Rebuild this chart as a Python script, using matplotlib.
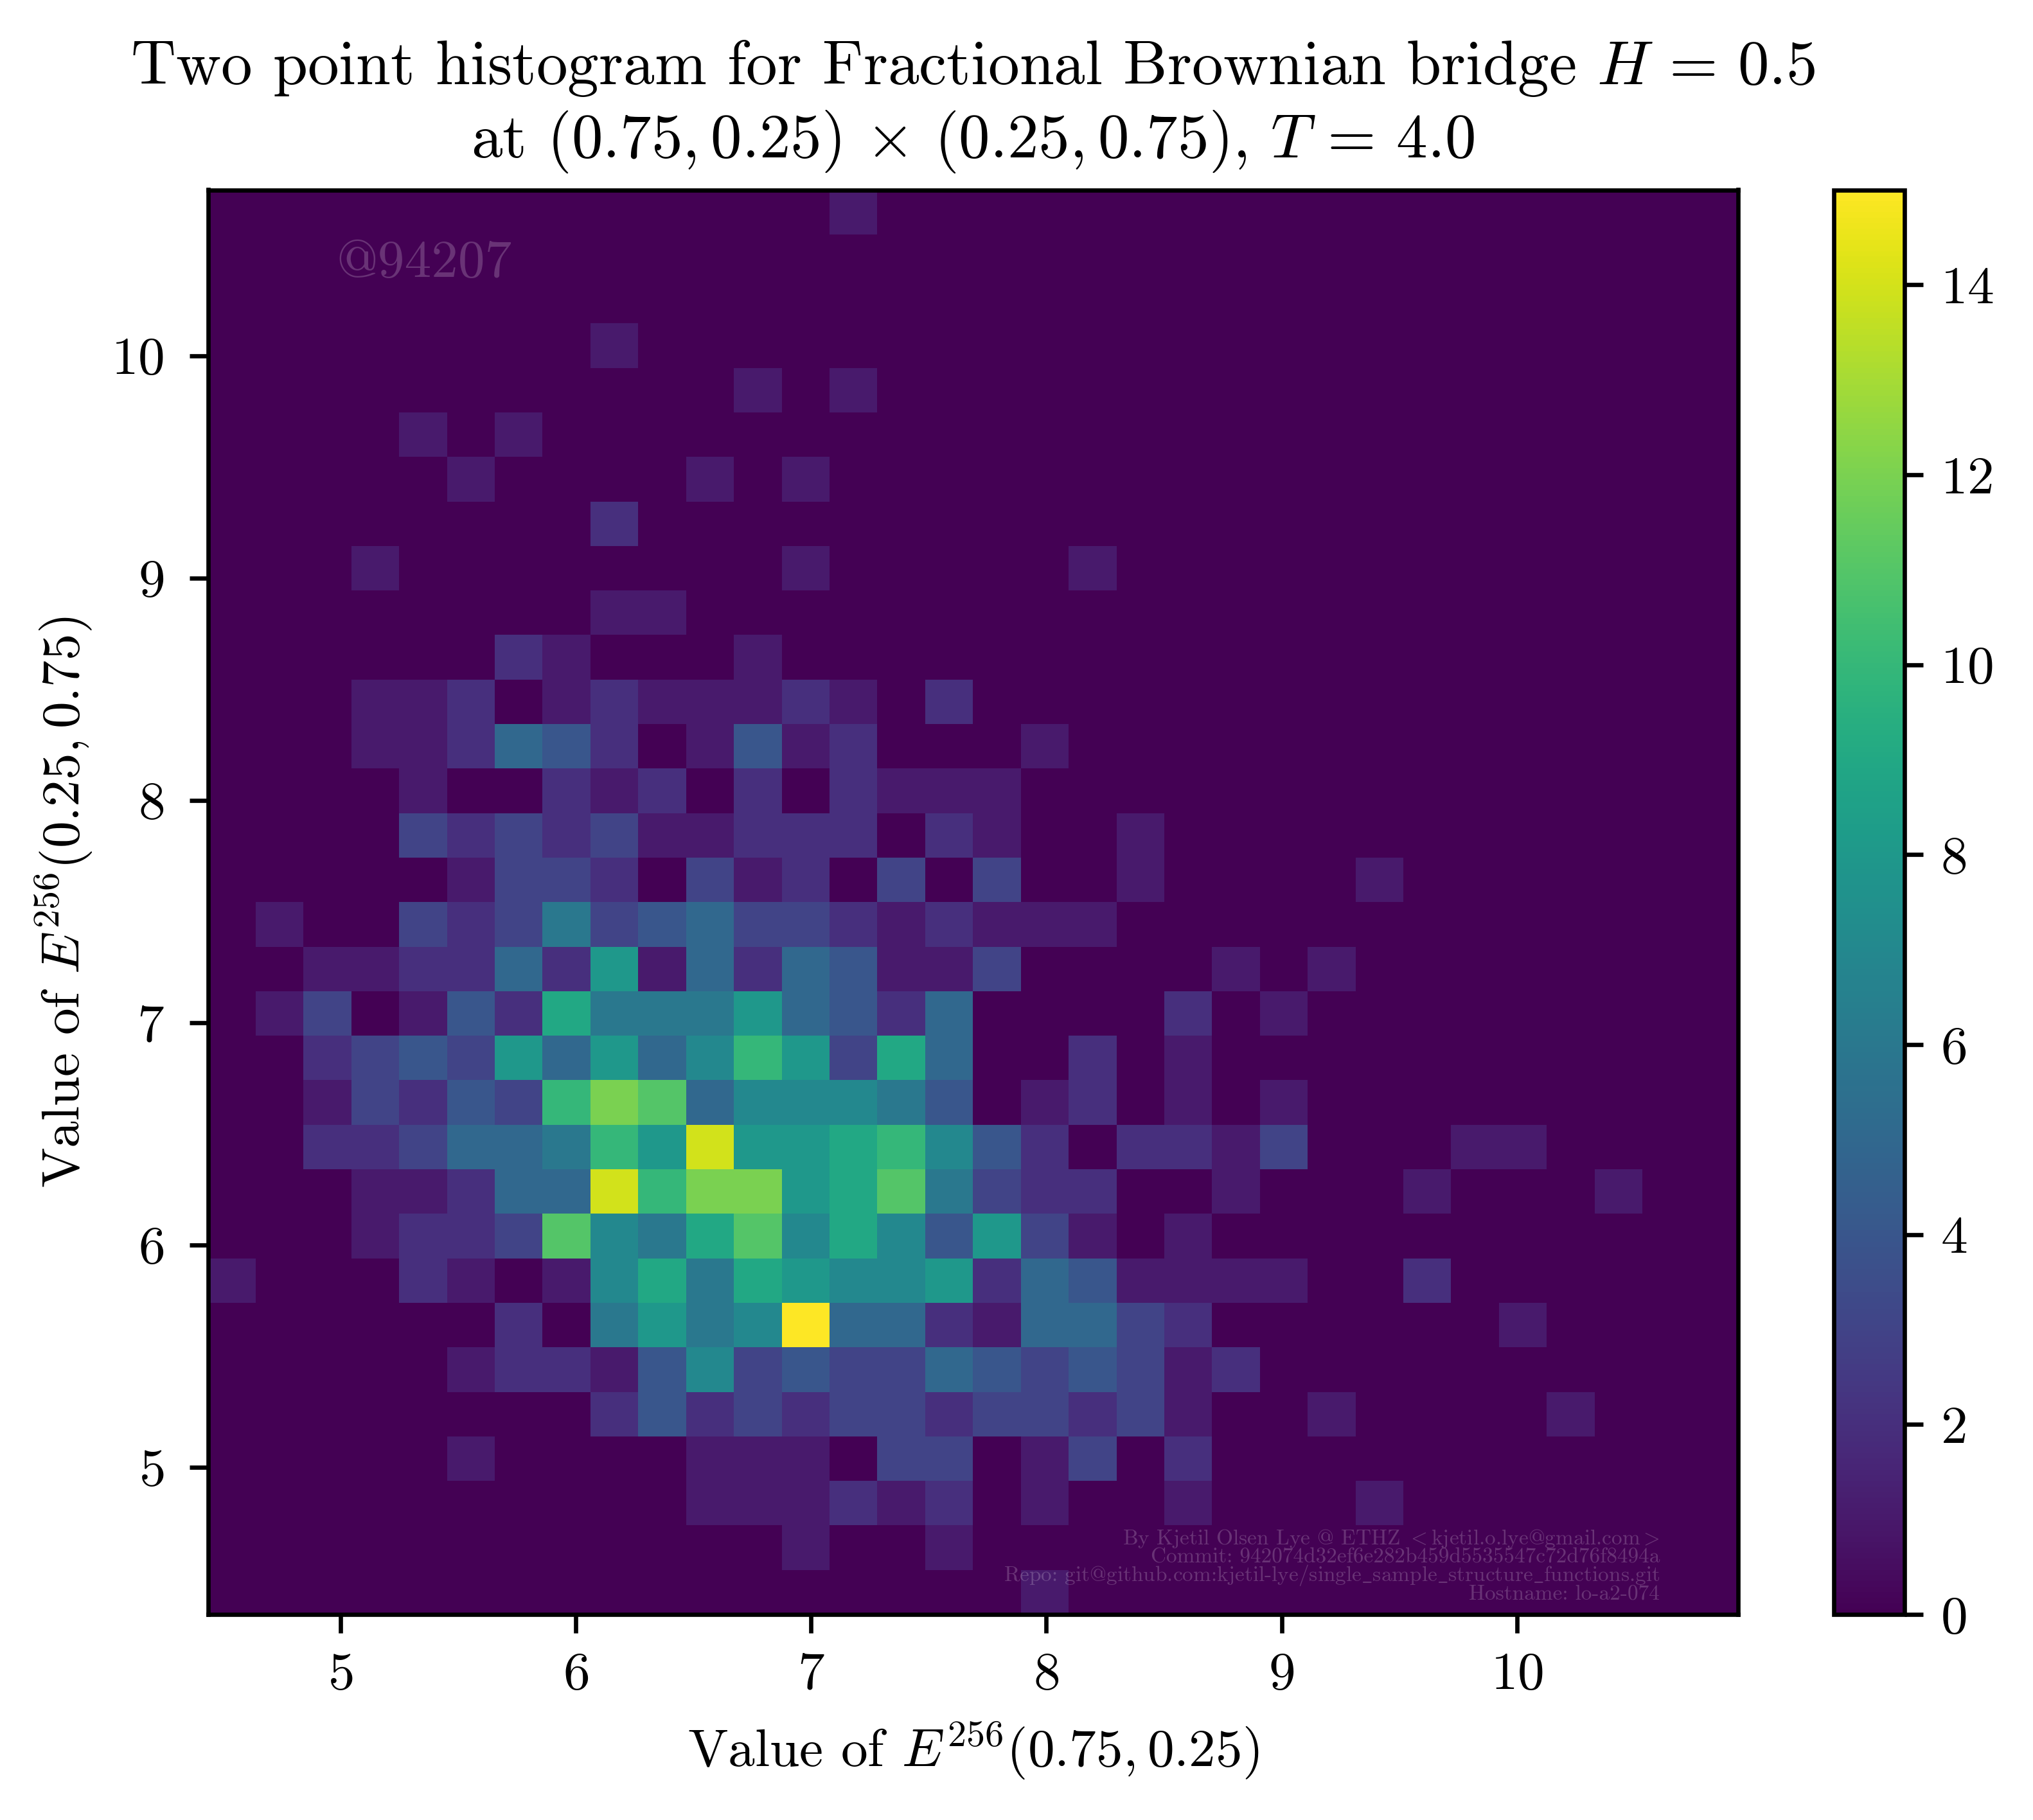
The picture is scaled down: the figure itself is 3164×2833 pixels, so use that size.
import numpy as np
import matplotlib
matplotlib.use("Agg")
import matplotlib.pyplot as plt

plt.rcParams["font.family"] = ["cmr10", "DejaVu Serif"]
plt.rcParams["mathtext.fontset"] = "cm"
plt.rcParams["axes.formatter.use_mathtext"] = True
plt.rcParams["axes.unicode_minus"] = False

# counts per row, top row first, as {column: count}
rows_top_down = [
    {13: 1},
    {},
    {},
    {8: 1},
    {11: 1, 13: 1},
    {4: 1, 6: 1},
    {5: 1, 10: 1, 12: 1},
    {8: 2},
    {3: 1, 12: 1, 18: 1},
    {8: 1, 9: 1},
    {6: 2, 7: 1, 11: 1},
    {3: 1, 4: 1, 5: 2, 7: 1, 8: 2, 9: 1, 10: 1, 11: 1, 12: 2, 13: 1, 15: 2},
    {3: 1, 4: 1, 5: 2, 6: 5, 7: 4, 8: 2, 10: 1, 11: 4, 12: 1, 13: 2, 17: 1},
    {4: 1, 7: 2, 8: 1, 9: 2, 11: 2, 13: 2, 14: 1, 15: 1, 16: 1},
    {4: 3, 5: 2, 6: 3, 7: 2, 8: 3, 9: 1, 10: 1, 11: 2, 12: 2, 13: 2, 15: 2, 16: 1, 19: 1},
    {5: 1, 6: 3, 7: 3, 8: 2, 10: 3, 11: 1, 12: 2, 14: 3, 16: 3, 19: 1, 24: 1},
    {1: 1, 4: 3, 5: 2, 6: 3, 7: 6, 8: 3, 9: 4, 10: 5, 11: 3, 12: 3, 13: 2, 14: 1, 15: 2,
     16: 1, 17: 1, 18: 1},
    {2: 1, 3: 1, 4: 2, 5: 2, 6: 5, 7: 2, 8: 8, 9: 1, 10: 5, 11: 2, 12: 5, 13: 4, 14: 1, 15: 1,
     16: 3, 21: 1, 23: 1},
    {1: 1, 2: 3, 4: 1, 5: 4, 6: 2, 7: 9, 8: 6, 9: 6, 10: 6, 11: 8, 12: 5, 13: 4, 14: 2, 15: 5,
     20: 2, 22: 1},
    {2: 2, 3: 3, 4: 4, 5: 3, 6: 8, 7: 5, 8: 8, 9: 5, 10: 7, 11: 10, 12: 8, 13: 3, 14: 9, 15: 5,
     18: 2, 20: 1},
    {2: 1, 3: 3, 4: 2, 5: 4, 6: 3, 7: 10, 8: 12, 9: 11, 10: 5, 11: 7, 12: 7, 13: 7, 14: 6, 15: 4,
     17: 1, 18: 2, 20: 1, 22: 1},
    {2: 2, 3: 2, 4: 3, 5: 5, 6: 5, 7: 6, 8: 10, 9: 8, 10: 14, 11: 8, 12: 8, 13: 9, 14: 10, 15: 7,
     16: 4, 17: 2, 19: 2, 20: 2, 21: 1, 22: 3, 26: 1, 27: 1},
    {3: 1, 4: 1, 5: 2, 6: 5, 7: 5, 8: 14, 9: 10, 10: 12, 11: 12, 12: 8, 13: 9, 14: 11, 15: 6,
     16: 3, 17: 2, 18: 2, 21: 1, 25: 1, 29: 1},
    {3: 1, 4: 2, 5: 2, 6: 3, 7: 11, 8: 7, 9: 6, 10: 9, 11: 11, 12: 7, 13: 9, 14: 7, 15: 4,
     16: 8, 17: 3, 18: 1, 20: 1},
    {0: 1, 4: 2, 5: 1, 7: 1, 8: 7, 9: 9, 10: 6, 11: 9, 12: 8, 13: 7, 14: 7, 15: 8,
     16: 2, 17: 5, 18: 4, 19: 1, 20: 1, 21: 1, 22: 1, 25: 2},
    {6: 2, 8: 6, 9: 8, 10: 6, 11: 7, 12: 15, 13: 5, 14: 5, 15: 2,
     16: 1, 17: 5, 18: 5, 19: 3, 20: 2, 27: 1},
    {5: 1, 6: 2, 7: 2, 8: 1, 9: 4, 10: 7, 11: 3, 12: 4, 13: 3, 14: 3, 15: 5,
     16: 4, 17: 3, 18: 4, 19: 3, 20: 1, 21: 2},
    {8: 2, 9: 4, 10: 2, 11: 3, 12: 2, 13: 3, 14: 3, 15: 2,
     16: 3, 17: 3, 18: 2, 19: 3, 20: 1, 23: 1, 28: 1},
    {5: 1, 10: 1, 11: 1, 12: 1, 14: 3, 15: 3, 17: 1, 18: 3, 20: 2},
    {10: 1, 11: 1, 12: 1, 13: 2, 14: 1, 15: 2, 17: 1, 20: 1, 24: 1},
    {12: 1, 15: 1},
    {17: 1},
]

n_bins = 32
x_range = (4.437, 10.94)
y_range = (4.337, 10.746)
x_ticks = [5, 6, 7, 8, 9, 10]
y_ticks = [5, 6, 7, 8, 9, 10]
cbar_ticks = [0, 2, 4, 6, 8, 10, 12, 14]

credit_lines = [
    r"By Kjetil Olsen Lye @ ETHZ $<$kjetil.o.lye@gmail.com$>$",
    "Commit: 942074d32ef6e282b459d5535547c72d76f8494a",
    r"Repo: git@github.com:kjetil-lye/single$\_$sample$\_$structure$\_$functions.git",
    "Hostname: lo-a2-074",
]


def main():
    counts = np.zeros((n_bins, n_bins))
    for r, row in enumerate(rows_top_down):
        for c, v in row.items():
            counts[n_bins - 1 - r, c] = v

    x_edges = np.linspace(x_range[0], x_range[1], n_bins + 1)
    y_edges = np.linspace(y_range[0], y_range[1], n_bins + 1)

    W, H = 3164, 2833
    fig = plt.figure(figsize=(W / 600, H / 600), dpi=600)
    ax = fig.add_axes([323.5 / W, 1 - 2513 / H, 2381.5 / W, 2217.5 / H])
    cax = fig.add_axes([2853.5 / W, 1 - 2513 / H, 110.5 / W, 2217.5 / H])

    mesh = ax.pcolormesh(x_edges, y_edges, counts, cmap="viridis", vmin=0, vmax=15)
    ax.set_xlim(*x_range)
    ax.set_ylim(*y_range)
    ax.set_xticks(x_ticks)
    ax.set_yticks(y_ticks)
    ax.tick_params(axis="y", pad=4.7)
    ax.set_xlabel(r"Value of $E^{256}(0.75,0.25)$")
    ax.set_ylabel(r"Value of $E^{256}(0.25,0.75)$", labelpad=3)
    ax.set_title("Two point histogram for Fractional Brownian bridge $H\\,=\\,0.5$\n"
                 r"at $(0.75,0.25)\,\times\,(0.25,0.75)$, $T\,=\,4.0$", fontsize=11.67,
                 linespacing=1.22)

    cbar = fig.colorbar(mesh, cax=cax)
    cbar.set_ticks(cbar_ticks)
    cbar.ax.tick_params(pad=3.2)

    ax.text(0.084, 0.948, "@94207", transform=ax.transAxes, fontsize=10,
            color="white", alpha=0.2, ha="left", va="center")

    for i, line in enumerate(credit_lines):
        ax.text(0.9488, 0.0532 - i * 0.01285, line, transform=ax.transAxes, fontsize=4,
                color="white", alpha=0.2, ha="right", va="center")

    fig.savefig("out.png", dpi=600)


if __name__ == "__main__":
    main()
